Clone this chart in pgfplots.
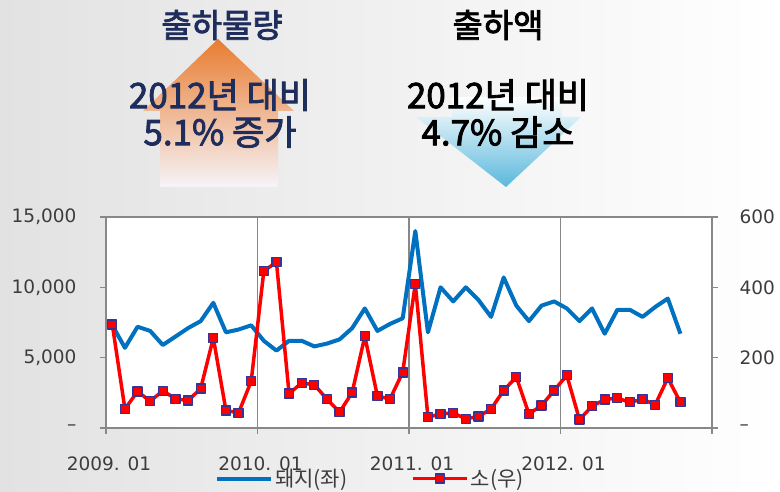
\documentclass[border=0pt]{standalone}
\usepackage{pgfplots}
\pgfplotsset{compat=1.18}
\usepackage{fontspec}
\setmainfont{DejaVu Sans}
\newfontfamily\kr{Noto Sans CJK KR}
\newfontfamily\krb[FakeBold=2.4]{Noto Sans CJK KR}
\definecolor{pigblue}{RGB}{0,112,192}
\definecolor{framegray}{RGB}{136,136,136}
\definecolor{labelgray}{RGB}{60,60,60}
\definecolor{navytext}{RGB}{31,45,92}
\definecolor{markedge}{RGB}{51,51,153}
\definecolor{bgleft}{RGB}{226,226,226}
\definecolor{arrorange}{RGB}{232,124,48}
\definecolor{arrmid}{RGB}{214,160,160}
\definecolor{arrbottom}{RGB}{246,244,249}
\definecolor{arrblue}{RGB}{90,184,220}

\pgfplotstableread{
x y
0 7300
1 5700
2 7200
3 6900
4 5900
5 6500
6 7100
7 7600
8 8900
9 6800
10 7000
11 7300
12 6200
13 5500
14 6200
15 6200
16 5800
17 6000
18 6300
19 7100
20 8500
21 6900
22 7400
23 7800
24 14000
25 6800
26 10000
27 9000
28 10000
29 9100
30 7900
31 10700
32 8700
33 7600
34 8700
35 9000
36 8500
37 7600
38 8500
39 6700
40 8400
41 8400
42 7900
43 8600
44 9200
45 6700
}\pigdata

\pgfplotstableread{
x y
0 294
1 54
2 104
3 76
4 106
5 83
6 78
7 112
8 256
9 50
10 43
11 133
12 446
13 472
14 98
15 128
16 123
17 82
18 45
19 101
20 261
21 90
22 83
23 158
24 410
25 31
26 40
27 43
28 26
29 33
30 54
31 107
32 145
33 40
34 64
35 107
36 150
37 24
38 62
39 81
40 85
41 73
42 82
43 66
44 142
45 73
}\cowdata

\begin{document}
\begin{tikzpicture}[x=1pt,y=1pt]
\path[use as bounding box] (0,0) rectangle (780,492);
\shade[left color=bgleft, right color=white] (0,0) rectangle (780,492);

% up arrow
\shade[top color=arrorange, middle color=arrmid, bottom color=arrbottom]
  (218,453) -- (294,381) -- (278,381) -- (278,305) -- (160,305) -- (160,381) -- (143,381) -- cycle;
% down arrow
\shade[top color=white, bottom color=arrblue]
  (452,395) -- (562,395) -- (562,375) -- (581,375) -- (506,305) -- (416,375) -- (452,375) -- cycle;

\node[font=\krb\fontsize{33}{36}\selectfont, text=navytext] at (222,467) {출하물량};
\node[font=\krb\fontsize{33}{36}\selectfont, text=black] at (498,467) {출하액};
\node[font=\krb\fontsize{35}{38}\selectfont, text=navytext] at (220,397) {2012년 대비};
\node[font=\krb\fontsize{35}{38}\selectfont, text=navytext] at (220,360) {5.1\% 증가};
\node[font=\krb\fontsize{35}{38}\selectfont, text=black] at (498,397) {2012년 대비};
\node[font=\krb\fontsize{35}{38}\selectfont, text=black] at (498,360) {4.7\% 감소};

\begin{axis}[
  at={(106pt,64pt)}, anchor=south west,
  width=606pt, height=211pt, scale only axis,
  xmin=-0.5, xmax=47.5, ymin=0, ymax=15000,
  scaled y ticks=false,
  xtick={-0.5,11.5,23.5,35.5,47.5},
  xticklabels={2009. 01,2010. 01,2011. 01,2012. 01,{}},
  ytick={0,5000,10000,15000},
  yticklabels={–,{5,000},{10,000},{15,000}},
  tick pos=left, tick align=outside, major tick length=6pt,
  xmajorgrids, grid style={framegray, line width=1.2pt},
  axis line style={framegray, line width=2pt},
  every tick/.style={framegray, line width=1.5pt},
  ticklabel style={font=\fontsize{18.5}{22}\selectfont, text=labelgray},
  /pgf/number format/assume math mode=true,
  xticklabel style={yshift=-19pt, xshift=3pt},
  yticklabel style={xshift=-20pt},
  axis background/.style={fill=white},
]
\addplot[pigblue, line width=4pt, line join=round, no marks] table[x=x,y=y] {\pigdata};
\end{axis}

\begin{axis}[
  at={(106pt,64pt)}, anchor=south west,
  width=606pt, height=211pt, scale only axis,
  xmin=-0.5, xmax=47.5, ymin=0, ymax=600,
  hide x axis, axis y line*=right,
  ytick={0,200,400,600},
  yticklabels={–,200,400,600},
  tick align=outside, major tick length=6pt,
  axis line style={framegray, line width=2pt},
  every tick/.style={framegray, line width=1.5pt},
  ticklabel style={font=\fontsize{18.5}{22}\selectfont, text=labelgray},
  /pgf/number format/assume math mode=true,
  yticklabel style={xshift=18pt},
  legend style={at={(0.175,-0.240)}, anchor=west, draw=none, fill=none,
    legend columns=2, font=\kr\fontsize{21}{23}\selectfont, text=labelgray,
    /tikz/every even column/.append style={column sep=62pt}},
  legend cell align=left,
  legend image code/.code={\draw[mark repeat=2,mark phase=2,#1] plot coordinates {(0pt,0pt) (27pt,0pt) (54pt,0pt)};},
]
\addlegendimage{pigblue, line width=4pt, no marks}
\addlegendentry{돼지(좌)}
\addplot[red, line width=3.5pt, line join=round, mark=square*, mark size=4.5pt,
  mark options={fill=red, draw=markedge, line width=1.3pt, solid}] table[x=x,y=y] {\cowdata};
\addlegendentry{소(우)}
\end{axis}
\end{tikzpicture}
\end{document}
